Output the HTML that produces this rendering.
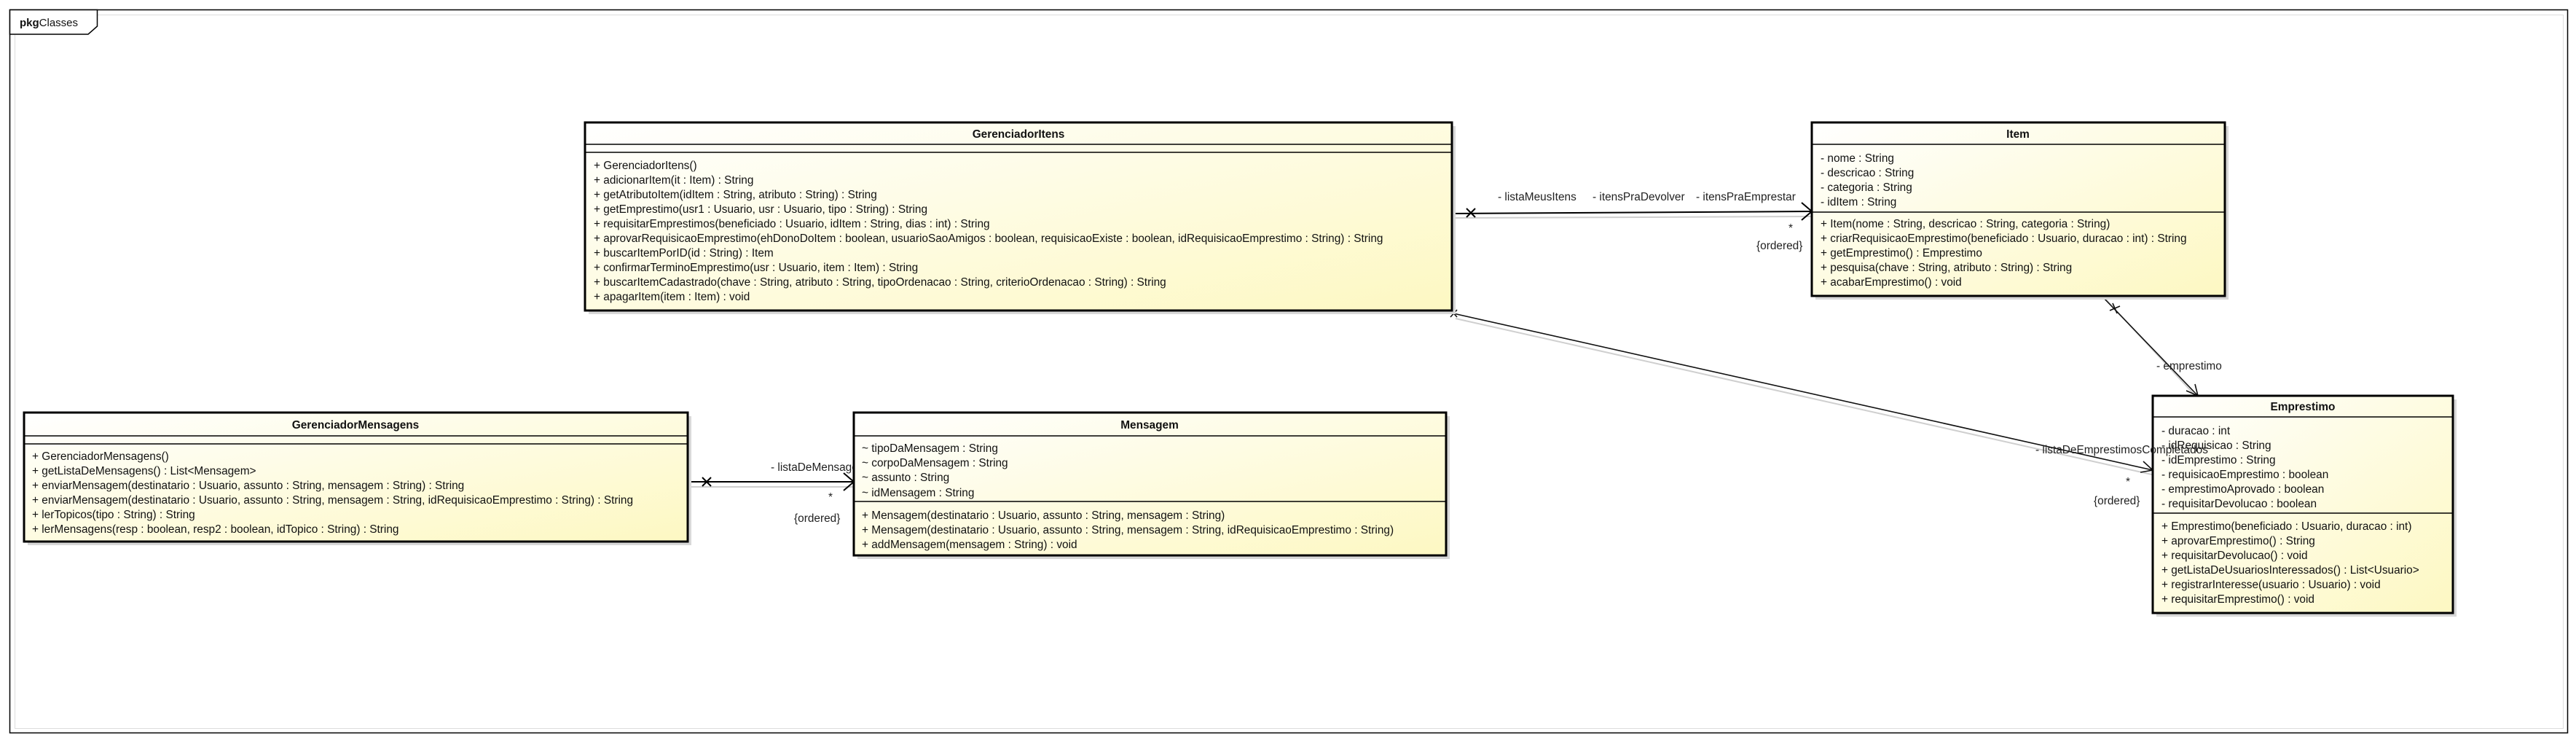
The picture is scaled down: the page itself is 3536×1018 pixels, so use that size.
<!DOCTYPE html>
<html><head><meta charset="utf-8"><style>
html,body{margin:0;padding:0;background:#fff;}
svg{display:block;}
text{font-family:"Liberation Sans",Arial,sans-serif;font-size:15.4px;fill:#111;}
.t{font-weight:bold;text-anchor:middle;}
.lbl{font-size:15.4px;fill:#222;}
</style></head><body>
<svg width="3536" height="1018" viewBox="0 0 3536 1018" xmlns="http://www.w3.org/2000/svg">
<defs>
<linearGradient id="g" x1="0" y1="0" x2="1" y2="1">
<stop offset="0" stop-color="#ffffff"/><stop offset="1" stop-color="#fdf8c2"/>
</linearGradient>
</defs>
<rect x="13.5" y="13.5" width="3511" height="992" fill="#fff" stroke="#000" stroke-width="1.5"/>
<rect x="20.5" y="20.5" width="3498" height="979" fill="none" stroke="#ddd" stroke-width="1"/>
<polygon points="13.5,13.5 133.5,13.5 133.5,36 121,47 13.5,47" fill="#fff" stroke="#000" stroke-width="1.5"/>
<text x="27" y="36" style="font-size:15px"><tspan font-weight="bold">pkg</tspan>Classes</text>

<g stroke="#cfcfcf" stroke-width="2" fill="none">
<line x1="1996" y1="299" x2="2490" y2="297"/>
<line x1="1998" y1="437" x2="2958" y2="652"/>
<line x1="947" y1="668" x2="1175" y2="668"/>
<line x1="2890" y1="410" x2="3022" y2="552"/>
</g>
<g stroke="#000" stroke-width="2" fill="none">
<line x1="1993" y1="293" x2="2487" y2="290"/>
<polyline points="2473,278 2487,290 2473,302"/>
<line x1="2013" y1="286" x2="2025" y2="298"/><line x1="2025" y1="286" x2="2013" y2="298"/>
<line x1="944" y1="661" x2="1172" y2="661"/>
<polyline points="1158,649 1172,661 1158,673"/>
<line x1="964" y1="655" x2="976" y2="667"/><line x1="976" y1="655" x2="964" y2="667"/>
</g>
<g stroke="#111" stroke-width="1.6" fill="none">
<line x1="1995" y1="430" x2="2955" y2="645"/>
<polyline points="2942,633 2955,645 2938,648"/>
<line x1="1991" y1="425" x2="2000" y2="435"/><line x1="2000" y1="425" x2="1991" y2="435"/>
<line x1="2885" y1="406" x2="3017" y2="543"/>
<polyline points="3001,536 3017,543 3013,527"/>
<line x1="2896" y1="426" x2="2910" y2="420"/><line x1="2900" y1="416" x2="2906" y2="430"/>
</g>
<text class="lbl" x="1058" y="646">- listaDeMensagens</text>

<g fill="#d8d8d8">
<rect x="808" y="173" width="1190" height="258"/>
<rect x="2492" y="173" width="567" height="238"/>
<rect x="2960" y="548" width="412" height="298"/>
<rect x="38" y="571" width="911" height="177"/>
<rect x="1177" y="571" width="813" height="196"/>
</g>

<rect x="803" y="168" width="1190" height="258" fill="url(#g)" stroke="#000" stroke-width="3"/>
<line x1="803" y1="198" x2="1993" y2="198" stroke="#000" stroke-width="1.5"/>
<line x1="803" y1="209" x2="1993" y2="209" stroke="#000" stroke-width="1.5"/>
<text class="t" x="1398" y="189">GerenciadorItens</text>
<text x="815" y="232">+ GerenciadorItens()</text>
<text x="815" y="252">+ adicionarItem(it : Item) : String</text>
<text x="815" y="272">+ getAtributoItem(idItem : String, atributo : String) : String</text>
<text x="815" y="292">+ getEmprestimo(usr1 : Usuario, usr : Usuario, tipo : String) : String</text>
<text x="815" y="312">+ requisitarEmprestimos(beneficiado : Usuario, idItem : String, dias : int) : String</text>
<text x="815" y="332">+ aprovarRequisicaoEmprestimo(ehDonoDoItem : boolean, usuarioSaoAmigos : boolean, requisicaoExiste : boolean, idRequisicaoEmprestimo : String) : String</text>
<text x="815" y="352">+ buscarItemPorID(id : String) : Item</text>
<text x="815" y="372">+ confirmarTerminoEmprestimo(usr : Usuario, item : Item) : String</text>
<text x="815" y="392">+ buscarItemCadastrado(chave : String, atributo : String, tipoOrdenacao : String, criterioOrdenacao : String) : String</text>
<text x="815" y="412">+ apagarItem(item : Item) : void</text>

<rect x="2487" y="168" width="567" height="238" fill="url(#g)" stroke="#000" stroke-width="3"/>
<line x1="2487" y1="198" x2="3054" y2="198" stroke="#000" stroke-width="1.5"/>
<line x1="2487" y1="291" x2="3054" y2="291" stroke="#000" stroke-width="1.5"/>
<text class="t" x="2770" y="189">Item</text>
<text x="2499" y="222">- nome : String</text>
<text x="2499" y="242">- descricao : String</text>
<text x="2499" y="262">- categoria : String</text>
<text x="2499" y="282">- idItem : String</text>
<text x="2499" y="312">+ Item(nome : String, descricao : String, categoria : String)</text>
<text x="2499" y="332">+ criarRequisicaoEmprestimo(beneficiado : Usuario, duracao : int) : String</text>
<text x="2499" y="352">+ getEmprestimo() : Emprestimo</text>
<text x="2499" y="372">+ pesquisa(chave : String, atributo : String) : String</text>
<text x="2499" y="392">+ acabarEmprestimo() : void</text>

<rect x="2955" y="543" width="412" height="298" fill="url(#g)" stroke="#000" stroke-width="3"/>
<line x1="2955" y1="572" x2="3367" y2="572" stroke="#000" stroke-width="1.5"/>
<line x1="2955" y1="704" x2="3367" y2="704" stroke="#000" stroke-width="1.5"/>
<text class="t" x="3161" y="563">Emprestimo</text>
<text x="2967" y="596">- duracao : int</text>
<text x="2967" y="616">- idRequisicao : String</text>
<text x="2967" y="636">- idEmprestimo : String</text>
<text x="2967" y="656">- requisicaoEmprestimo : boolean</text>
<text x="2967" y="676">- emprestimoAprovado : boolean</text>
<text x="2967" y="696">- requisitarDevolucao : boolean</text>
<text x="2967" y="727">+ Emprestimo(beneficiado : Usuario, duracao : int)</text>
<text x="2967" y="747">+ aprovarEmprestimo() : String</text>
<text x="2967" y="767">+ requisitarDevolucao() : void</text>
<text x="2967" y="787">+ getListaDeUsuariosInteressados() : List&lt;Usuario&gt;</text>
<text x="2967" y="807">+ registrarInteresse(usuario : Usuario) : void</text>
<text x="2967" y="827">+ requisitarEmprestimo() : void</text>

<rect x="33" y="566" width="911" height="177" fill="url(#g)" stroke="#000" stroke-width="3"/>
<line x1="33" y1="598" x2="944" y2="598" stroke="#000" stroke-width="1.5"/>
<line x1="33" y1="609" x2="944" y2="609" stroke="#000" stroke-width="1.5"/>
<text class="t" x="488" y="588">GerenciadorMensagens</text>
<text x="44" y="631">+ GerenciadorMensagens()</text>
<text x="44" y="651">+ getListaDeMensagens() : List&lt;Mensagem&gt;</text>
<text x="44" y="671">+ enviarMensagem(destinatario : Usuario, assunto : String, mensagem : String) : String</text>
<text x="44" y="691">+ enviarMensagem(destinatario : Usuario, assunto : String, mensagem : String, idRequisicaoEmprestimo : String) : String</text>
<text x="44" y="711">+ lerTopicos(tipo : String) : String</text>
<text x="44" y="731">+ lerMensagens(resp : boolean, resp2 : boolean, idTopico : String) : String</text>

<rect x="1172" y="566" width="813" height="196" fill="url(#g)" stroke="#000" stroke-width="3"/>
<line x1="1172" y1="598" x2="1985" y2="598" stroke="#000" stroke-width="1.5"/>
<line x1="1172" y1="688" x2="1985" y2="688" stroke="#000" stroke-width="1.5"/>
<text class="t" x="1578" y="588">Mensagem</text>
<text x="1183" y="620">~ tipoDaMensagem : String</text>
<text x="1183" y="640">~ corpoDaMensagem : String</text>
<text x="1183" y="660">~ assunto : String</text>
<text x="1183" y="681">~ idMensagem : String</text>
<text x="1183" y="712">+ Mensagem(destinatario : Usuario, assunto : String, mensagem : String)</text>
<text x="1183" y="732">+ Mensagem(destinatario : Usuario, assunto : String, mensagem : String, idRequisicaoEmprestimo : String)</text>
<text x="1183" y="752">+ addMensagem(mensagem : String) : void</text>

<text class="lbl" x="2056" y="275">- listaMeusItens</text>
<text class="lbl" x="2186" y="275">- itensPraDevolver</text>
<text class="lbl" x="2328" y="275">- itensPraEmprestar</text>
<text class="lbl" x="2455" y="318">*</text>
<text class="lbl" x="2411" y="342">{ordered}</text>
<text class="lbl" x="2960" y="507">- emprestimo</text>
<text class="lbl" x="2794" y="622">- listaDeEmprestimosCompletados</text>
<text class="lbl" x="2918" y="666">*</text>
<text class="lbl" x="2874" y="692">{ordered}</text>
<text class="lbl" x="1137" y="687">*</text>
<text class="lbl" x="1090" y="716">{ordered}</text>
</svg>
</body></html>
